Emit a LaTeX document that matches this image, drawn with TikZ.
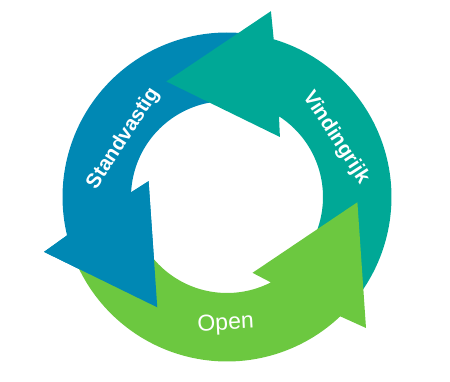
\documentclass[tikz,border=0pt]{standalone}
\usepackage{fontspec}
\setmainfont{Liberation Sans}
\definecolor{cblue}{HTML}{0088B4}
\definecolor{cteal}{HTML}{00A896}
\definecolor{cgreen}{HTML}{6CC840}
\begin{document}
\begin{tikzpicture}[x=1pt,y=1pt,
  boldlabel/.style={text=white,inner sep=0pt,font=\fontsize{20.5}{24}\selectfont\bfseries},
  plainlabel/.style={text=white,inner sep=0pt,font=\fontsize{23}{27}\selectfont}]
\useasboundingbox (-227,-184) rectangle (223,197);
% three identical circular arrows, rotated by 120 degrees
\foreach \rot/\col in {0/cblue,-120/cteal,120/cgreen}{
  \begin{scope}[rotate=\rot]
    \fill[\col] (80:96pt) arc[start angle=80,end angle=177.2,radius=96pt]
      -- (168.6:80pt) -- (237.7:130.5pt) -- (196.7:191pt) -- (193.5:164.5pt)
      arc[start angle=193.5,end angle=80,radius=164.5pt] -- cycle;
  \end{scope}
}
% blue arrowhead again, on top of the green tail
\fill[cblue] (168.6:80pt) -- (237.7:130.5pt) -- (196.7:191pt) -- (193.5:164.5pt) -- (177.2:96pt) -- cycle;
\node[boldlabel,rotate=57] (standvastig) at (150.6:119pt) {Standvastig};
\node[boldlabel,rotate=-57] (vindingrijk) at (28.7:124pt) {Vindingrijk};
\node[plainlabel,rotate=3] (open) at (269.4:127pt) {Open};
\end{tikzpicture}
\end{document}
